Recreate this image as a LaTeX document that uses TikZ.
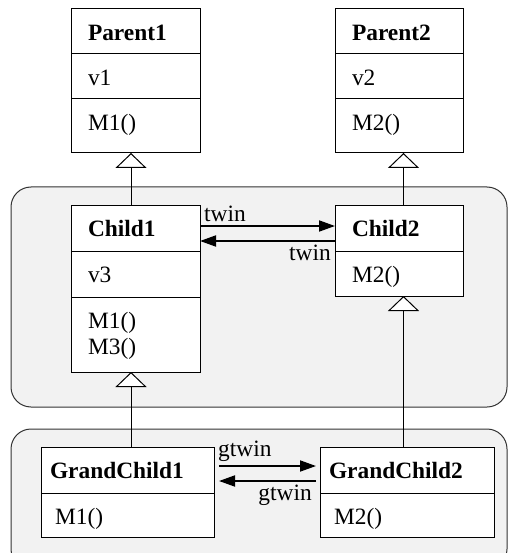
\documentclass[tikz,border=0pt]{standalone}
\usepackage{fontspec}
\setmainfont{Liberation Serif}
\usetikzlibrary{positioning}
\usetikzlibrary{arrows.meta}
\tikzstyle{every node}=[font=\fontsize{23.4}{26}\selectfont]
\tikzset{
  cell/.style n args={3}{draw,fill=white,align=left,anchor=north,outer sep=0pt,
    inner ysep=4pt,text height=27.5pt,text width=#1,inner xsep=#2,text depth=#3},
  group/.style={draw=black!80,fill=black!5,rounded corners=20pt,anchor=north west,
    minimum width=496pt,outer sep=0pt},
  inherit/.style={-{Triangle[fill=white,length=15pt,width=31pt]}},
  twin/.style={line width=1.8pt,-{Triangle[length=16pt,width=11pt]}},
}

\begin{document}
\begin{tikzpicture}[x=1pt,y=-1pt,line width=1pt]
  \useasboundingbox (0,0) rectangle (508,553);
  \clip (0,0) rectangle (508,553);
  % packages
  \node[group,minimum height=220pt] (grp1) at (11,187) {};
  \node[group,minimum height=140pt] (grp2) at (11,429) {};
  % parents
  \node[cell={95pt}{17pt}{9.5pt}] (p1h) at (135.5,9) {\textbf{Parent1}};
  \node[cell={95pt}{17pt}{9.5pt},below=0pt of p1h] (p1a) {v1};
  \node[cell={95pt}{17pt}{18.5pt},below=0pt of p1a] (p1m) {M1()};
  \node[cell={94pt}{17pt}{9.5pt}] (p2h) at (399,9) {\textbf{Parent2}};
  \node[cell={94pt}{17pt}{9.5pt},below=0pt of p2h] (p2a) {v2};
  \node[cell={94pt}{17pt}{18.5pt},below=0pt of p2a] (p2m) {M2()};
  % children
  \node[cell={95pt}{17pt}{10.5pt}] (c1h) at (135.5,205) {\textbf{Child1}};
  \node[cell={95pt}{17pt}{10.5pt},below=0pt of c1h] (c1a) {v3};
  \node[cell={95pt}{17pt}{39.5pt},below=0pt of c1a] (c1m) {M1()\\M3()};
  \node[cell={94pt}{17pt}{10.5pt}] (c2h) at (399,205) {\textbf{Child2}};
  \node[cell={94pt}{17pt}{9.5pt},below=0pt of c2h] (c2m) {M2()};
  % grandchildren
  \node[cell={155pt}{9pt}{10.5pt}] (g1h) at (127.5,447) {\textbf{GrandChild1}};
  \node[cell={145pt}{14pt}{8.5pt},below=0pt of g1h] (g1m) {M1()};
  \node[cell={156pt}{9pt}{10.5pt}] (g2h) at (407,447) {\textbf{GrandChild2}};
  \node[cell={146pt}{14pt}{8.5pt},below=0pt of g2h] (g2m) {M2()};
  % generalization
  \draw[inherit] ([xshift=-4.5pt]c1h.north) -- ([xshift=-4.5pt]p1m.south);
  \draw[inherit] ([xshift=4.5pt]c2h.north) -- ([xshift=4.5pt]p2m.south);
  \draw[inherit] ([xshift=3.5pt]g1h.north) -- ([xshift=-4.5pt]c1m.south);
  \draw[inherit] ([xshift=-3.5pt]g2h.north) -- ([xshift=4.5pt]c2m.south);
  % twin links
  \draw[twin] ([yshift=2pt]c1h.east) -- ([yshift=2pt]c2h.west)
    node[pos=0,above right] {twin};
  \draw[twin] ([yshift=-13pt]c2h.west) -- ([yshift=-13pt]c1h.east)
    node[pos=0,below left] {twin};
  \draw[twin,shorten <=5pt,shorten >=4pt] ([yshift=4pt]g1h.east) -- ([yshift=4pt]g2h.west)
    node[pos=0,above right] {gtwin};
  \draw[twin,shorten <=4pt,shorten >=5pt] ([yshift=-11pt]g2h.west) -- ([yshift=-11pt]g1h.east)
    node[pos=0,below left,xshift=-4pt] {gtwin};
\end{tikzpicture}
\end{document}
